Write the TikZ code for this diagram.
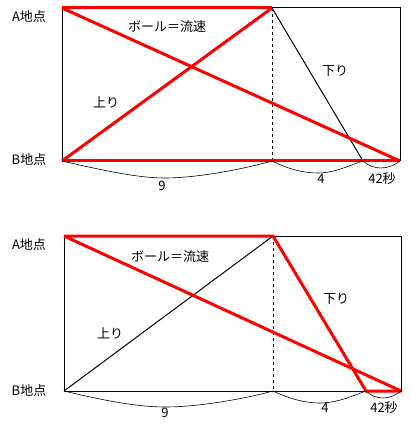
\documentclass[tikz,border=0pt]{standalone}
\usepackage{fontspec}
\setmainfont{Noto Sans CJK JP}
\usetikzlibrary{positioning}

\tikzset{
  redline/.style = {red, line width=3pt},
  thin/.style = {black, line width=1pt},
  gap/.style = {black, line width=0.6pt},
  lbl/.style = {font=\fontsize{13}{15}\selectfont, inner sep=0pt}
}

\begin{document}
\begin{tikzpicture}[x=1pt, y=-1pt]
  \useasboundingbox (0,0) rectangle (410,430);
  % upper diagram
  \coordinate (A1) at (62,8);
  \coordinate (U1) at (272,8);
  \coordinate (R1) at (400,8);
  \coordinate (B1) at (62,161);
  \coordinate (M1) at (272,161);
  \coordinate (D1) at (363,161);
  \coordinate (Z1) at (400,161);
  \draw[thin] (A1) rectangle (Z1);
  \draw[thin, dashed] (U1) -- (M1);
  \draw[thin] (U1) -- (D1);
  \draw[redline] (A1) -- (U1);
  \draw[redline] (B1) -- (Z1);
  \draw[redline] (A1) -- (Z1);
  \draw[redline] (B1) -- (U1);
  \draw[gap] (B1) .. controls (110,172) and (140,178) .. (165,178)
                  .. controls (195,178) and (240,170) .. (M1);
  \draw[gap] (M1) .. controls (290,170) and (305,173) .. (318,173)
                  .. controls (335,173) and (350,165) .. (D1);
  \draw[gap] (D1) .. controls (368,166) and (375,168) .. (381,168)
                  .. controls (388,168) and (395,165) .. (Z1);
  \node[lbl] (a1) at (29,17) {A地点};
  \node[lbl] (b1) at (29,160) {B地点};
  \node[lbl] (ball1) at (167,27) {ボール＝流速};
  \node[lbl] (down1) at (335,71) {下り};
  \node[lbl] (up1) at (106,102) {上り};
  \node[lbl] (nine1) at (162,186) {9};
  \node[lbl] (four1) at (321,179) {4};
  \node[lbl] (sec1) at (382,179) {42秒};

  % lower diagram
  \coordinate (A2) at (64,236);
  \coordinate (U2) at (273,236);
  \coordinate (B2) at (64,391);
  \coordinate (M2) at (273,391);
  \coordinate (D2) at (366,391);
  \coordinate (Z2) at (401,391);
  \draw[thin] (A2) rectangle (Z2);
  \draw[thin, dashed] (U2) -- (M2);
  \draw[thin] (B2) -- (U2);
  \draw[redline] (A2) -- (U2) -- (D2) -- (Z2);
  \draw[redline] (A2) -- (Z2);
  \draw[gap] (B2) .. controls (110,402) and (140,407) .. (166,407)
                  .. controls (195,407) and (240,400) .. (M2);
  \draw[gap] (M2) .. controls (292,400) and (307,403) .. (320,403)
                  .. controls (337,403) and (352,396) .. (D2);
  \draw[gap] (D2) .. controls (371,396) and (377,398) .. (383,398)
                  .. controls (390,398) and (396,395) .. (Z2);
  \node[lbl] (a2) at (29,245) {A地点};
  \node[lbl] (b2) at (29,391) {B地点};
  \node[lbl] (ball2) at (170,257) {ボール＝流速};
  \node[lbl] (down2) at (336,299) {下り};
  \node[lbl] (up2) at (110,333) {上り};
  \node[lbl] (nine2) at (165,413) {9};
  \node[lbl] (four2) at (325,408) {4};
  \node[lbl] (sec2) at (384,408) {42秒};
\end{tikzpicture}
\end{document}
